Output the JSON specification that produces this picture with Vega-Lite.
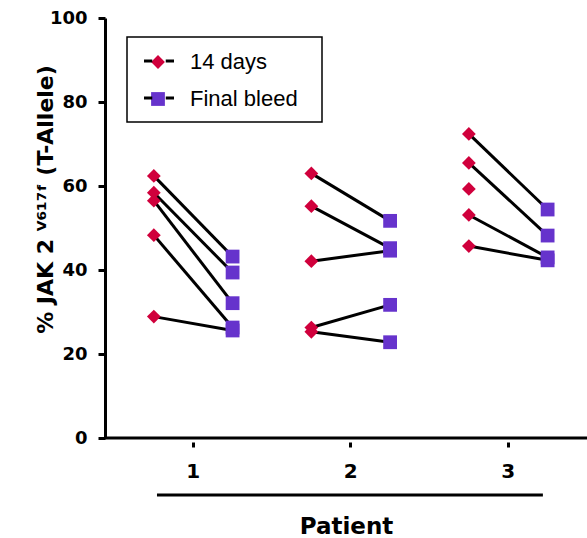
{
  "$schema": "https://vega.github.io/schema/vega-lite/v6.json",
  "width": 482,
  "height": 420,
  "autosize": {"type": "none"},
  "padding": {"left": 105, "top": 18, "right": 0, "bottom": 100},
  "background": "white",
  "config": {
    "view": {"stroke": null},
    "font": "Liberation Sans",
    "axis": {"domainColor": "black", "tickColor": "black", "labelColor": "black", "titleColor": "black", "grid": false, "labelFont": "DejaVu Sans", "titleFont": "DejaVu Sans", "labelFontWeight": "bold", "titleFontWeight": "bold"},
    "axisY": {"domainWidth": 3, "tickSize": 7, "tickWidth": 3, "labelFontSize": 18, "labelPadding": 11, "titleFontSize": 22, "titleX": -53, "titleY": 181, "titleBaseline": "alphabetic", "titleAngle": -90, "titleAlign": "center"},
    "axisX": {"domain": false, "offset": 4, "tickSize": 5, "tickWidth": 3, "labelFontSize": 20, "labelPadding": 14, "labelAngle": 0, "titleFontSize": 23, "titleY": 91, "titleBaseline": "alphabetic"},
    "legend": {"labelColor": "black", "labelFont": "Liberation Sans", "strokeWidth": 1.5}
  },
  "data": {"values": [
    {"patient": 1, "series": "14 days", "value": 62.4, "pair": "1a"},
    {"patient": 1, "series": "Final bleed", "value": 43.2, "pair": "1a"},
    {"patient": 1, "series": "14 days", "value": 58.4, "pair": "1b"},
    {"patient": 1, "series": "Final bleed", "value": 39.4, "pair": "1b"},
    {"patient": 1, "series": "14 days", "value": 56.5, "pair": "1c"},
    {"patient": 1, "series": "Final bleed", "value": 32.1, "pair": "1c"},
    {"patient": 1, "series": "14 days", "value": 48.3, "pair": "1d"},
    {"patient": 1, "series": "Final bleed", "value": 26.3, "pair": "1d"},
    {"patient": 1, "series": "14 days", "value": 28.9, "pair": "1e"},
    {"patient": 1, "series": "Final bleed", "value": 25.6, "pair": "1e"},
    {"patient": 2, "series": "14 days", "value": 63.0, "pair": "2a"},
    {"patient": 2, "series": "Final bleed", "value": 51.7, "pair": "2a"},
    {"patient": 2, "series": "14 days", "value": 55.2, "pair": "2b"},
    {"patient": 2, "series": "Final bleed", "value": 45.2, "pair": "2b"},
    {"patient": 2, "series": "14 days", "value": 42.1, "pair": "2c"},
    {"patient": 2, "series": "Final bleed", "value": 44.6, "pair": "2c"},
    {"patient": 2, "series": "14 days", "value": 26.3, "pair": "2d"},
    {"patient": 2, "series": "Final bleed", "value": 31.7, "pair": "2d"},
    {"patient": 2, "series": "14 days", "value": 25.3, "pair": "2e"},
    {"patient": 2, "series": "Final bleed", "value": 22.8, "pair": "2e"},
    {"patient": 3, "series": "14 days", "value": 72.4, "pair": "3a"},
    {"patient": 3, "series": "Final bleed", "value": 54.4, "pair": "3a"},
    {"patient": 3, "series": "14 days", "value": 65.5, "pair": "3b"},
    {"patient": 3, "series": "Final bleed", "value": 48.2, "pair": "3b"},
    {"patient": 3, "series": "14 days", "value": 59.3, "pair": "3c"},
    {"patient": 3, "series": "14 days", "value": 53.1, "pair": "3d"},
    {"patient": 3, "series": "Final bleed", "value": 43.0, "pair": "3d"},
    {"patient": 3, "series": "14 days", "value": 45.7, "pair": "3e"},
    {"patient": 3, "series": "Final bleed", "value": 42.3, "pair": "3e"}
  ]},
  "layer": [
    {
      "data": {"values": [{}]},
      "mark": {"type": "rule", "color": "black", "strokeWidth": 3},
      "encoding": {"y": {"datum": 0, "type": "quantitative", "scale": {"domain": [0, 100], "nice": false}}}
    },
    {
      "mark": {"type": "line", "color": "black", "strokeWidth": 3},
      "encoding": {
        "x": {"field": "patient", "type": "ordinal", "title": "Patient", "scale": {"paddingInner": 0, "paddingOuter": 0.03, "align": 1}},
        "xOffset": {"field": "series", "type": "nominal", "scale": {"type": "band", "paddingInner": 0, "paddingOuter": 0}},
        "y": {"field": "value", "type": "quantitative", "title": "% JAK 2 ⱽ⁶¹⁷ᶠ (T-Allele)", "scale": {"domain": [0, 100], "nice": false}, "axis": {"values": [0, 20, 40, 60, 80, 100]}},
        "detail": {"field": "pair"}
      }
    },
    {
      "mark": {"type": "point", "filled": true, "size": 190, "opacity": 1},
      "encoding": {
        "x": {"field": "patient", "type": "ordinal", "title": "Patient"},
        "xOffset": {"field": "series", "type": "nominal", "scale": {"type": "band", "paddingInner": 0, "paddingOuter": 0}},
        "y": {"field": "value", "type": "quantitative", "title": "% JAK 2 ⱽ⁶¹⁷ᶠ (T-Allele)", "scale": {"domain": [0, 100], "nice": false}, "axis": {"values": [0, 20, 40, 60, 80, 100]}},
        "color": {"field": "series", "type": "nominal", "scale": {"domain": ["14 days", "Final bleed"], "range": ["#d0003c", "#6633cc"]},
          "legend": {"orient": "none", "legendX": 40, "legendY": 33, "title": null, "padding": 0, "labelFontSize": 22, "labelOffset": 21, "symbolOffset": 2, "rowPadding": 15, "symbolStrokeWidth": 0, "symbolSize": 190}},
        "shape": {"field": "series", "type": "nominal", "scale": {"domain": ["14 days", "Final bleed"], "range": ["diamond", "square"]},
          "legend": {"orient": "none", "legendX": 40, "legendY": 33, "title": null, "padding": 0, "labelFontSize": 22, "labelOffset": 21, "symbolOffset": 2, "rowPadding": 15, "symbolStrokeWidth": 0, "symbolSize": 190}}
      }
    },
    {
      "transform": [{"filter": "false"}],
      "mark": {"type": "line", "color": "black", "strokeWidth": 3},
      "encoding": {
        "x": {"field": "patient", "type": "ordinal", "title": "Patient"},
        "y": {"field": "value", "type": "quantitative", "title": "% JAK 2 ⱽ⁶¹⁷ᶠ (T-Allele)", "scale": {"domain": [0, 100], "nice": false}},
        "strokeDash": {"field": "series", "type": "nominal", "scale": {"domain": ["a", "b"], "range": [[1, 0], [1, 0]]},
          "legend": {"orient": "none", "legendX": 22, "legendY": 19, "title": null, "padding": 13, "strokeColor": "black", "symbolType": "M-2,0H-0.9M0.9,0H2", "symbolSize": 225, "symbolStrokeWidth": 3, "symbolStrokeColor": "black", "symbolOffset": 8, "labelExpr": "''", "labelFontSize": 22, "labelOffset": 139, "rowPadding": 15}}
      }
    },
    {
      "data": {"values": [{}]},
      "mark": {"type": "rule", "color": "black", "strokeWidth": 3},
      "encoding": {
        "x": {"datum": 1, "type": "ordinal", "bandPosition": 0.27},
        "x2": {"datum": 3, "bandPosition": 0.72},
        "y": {"datum": -13.6, "type": "quantitative", "scale": {"domain": [0, 100], "nice": false}}
      }
    }
  ]
}
